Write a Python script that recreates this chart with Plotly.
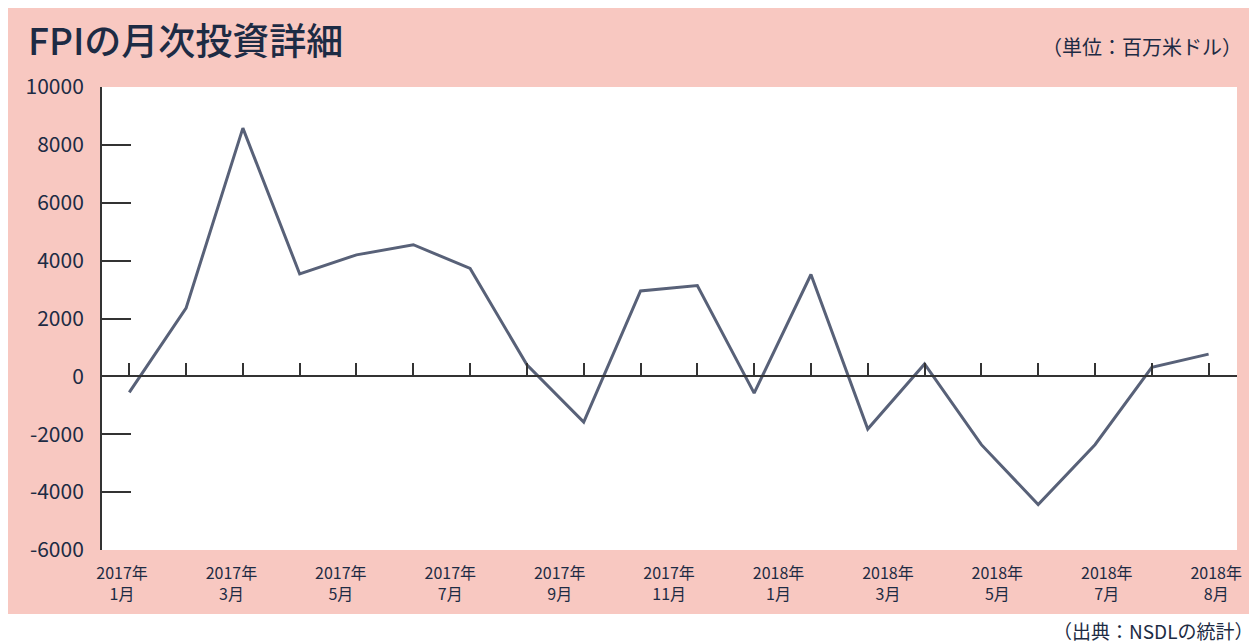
import plotly.graph_objects as go

# 月次データ (百万米ドル)
months = [
    "2017-01", "2017-02", "2017-03", "2017-04", "2017-05", "2017-06", "2017-07",
    "2017-08", "2017-09", "2017-10", "2017-11", "2017-12", "2018-01", "2018-02",
    "2018-03", "2018-04", "2018-05", "2018-06", "2018-07", "2018-08",
]
fpi_values = [
    -550, 2360, 8580, 3540, 4200, 4550, 3730,
    400, -1580, 2950, 3140, -580, 3520, -1820,
    430, -2360, -4430, -2360, 310, 770,
]
tick_labels = [
    "2017年<br>1月", "2017年<br>3月", "2017年<br>5月", "2017年<br>7月",
    "2017年<br>9月", "2017年<br>11月", "2018年<br>1月", "2018年<br>3月",
    "2018年<br>5月", "2018年<br>7月", "2018年<br>8月",
]
y_ticks = [10000, 8000, 6000, 4000, 2000, 0, -2000, -4000, -6000]

PINK = "#F8C8C1"
NAVY = "#1D2B44"
AXIS = "#333333"
LINE = "#586178"
FONT = "Noto Sans CJK JP"

# page body has an 8px margin, so the figure starts at (8, 8)
OFF = 8
W, H = 1257 - OFF, 643 - OFF
# plot area on the page: x 102..1237, y 87..550
L, R, T, B = 102 - OFF, 20, 87 - OFF, 643 - 550
pw, ph = W - L - R, H - T - B


def px_x(p):
    return (p - OFF - L) / pw


def px_y(p):
    return (H - B - (p - OFF)) / ph


fig = go.Figure()

fig.add_trace(go.Scatter(
    x=months, y=fpi_values, mode="lines",
    line=dict(color=LINE, width=3),
    xaxis="x", yaxis="y", showlegend=False, hoverinfo="x+y",
))
# label-only axis (evenly spread labels, as in the source chart)
fig.add_trace(go.Scatter(
    x=tick_labels, y=[None] * len(tick_labels), mode="lines",
    xaxis="x2", yaxis="y", showlegend=False, hoverinfo="skip",
))

# background panel
fig.add_shape(type="rect", xref="paper", yref="paper", layer="below",
              x0=px_x(OFF), x1=px_x(1251), y0=px_y(614), y1=px_y(OFF),
              fillcolor=PINK, line_width=0)
fig.add_shape(type="rect", xref="paper", yref="paper", layer="below",
              x0=0, x1=1, y0=0, y1=1, fillcolor="white", line_width=0)

fig.add_annotation(text="FPIの月次投資詳細", xref="paper", yref="paper",
                   x=px_x(26), y=px_y(39), xanchor="left", yanchor="middle",
                   showarrow=False,
                   font=dict(family=FONT, size=37, color=NAVY, weight=500))
fig.add_annotation(text="（単位：百万米ドル）", xref="paper", yref="paper",
                   x=px_x(1244), y=px_y(47), xanchor="right", yanchor="middle",
                   showarrow=False, font=dict(family=FONT, size=20, color=NAVY))
fig.add_annotation(text="（出典：NSDLの統計）", xref="paper", yref="paper",
                   x=px_x(1255), y=px_y(630), xanchor="right", yanchor="middle",
                   showarrow=False, font=dict(family=FONT, size=19, color=NAVY))

fig.update_layout(
    width=W, height=H,
    margin=dict(l=L, r=R, t=T, b=B),
    paper_bgcolor="white",
    plot_bgcolor="rgba(0,0,0,0)",
    font=dict(family=FONT, color=NAVY),
    xaxis=dict(
        type="category", range=[-0.48, 19.5],
        anchor="free", position=6000 / 16000,
        showline=True, linecolor=AXIS, linewidth=2,
        ticks="inside", ticklen=12, tickwidth=1.5, tickcolor=AXIS,
        showticklabels=False, showgrid=False, zeroline=False,
    ),
    xaxis2=dict(
        type="category", overlaying="x", anchor="y", side="bottom",
        range=[-0.183, 10.19],
        showline=False, ticks="", showgrid=False, zeroline=False,
        tickfont=dict(family=FONT, size=16, color=NAVY),
        ticklabelstandoff=12,
    ),
    yaxis=dict(
        range=[-6000, 10000], tickvals=y_ticks,
        ticktext=[str(v) for v in y_ticks],
        showline=True, linecolor=AXIS, linewidth=2,
        ticks="inside", ticklen=29, tickwidth=1.5, tickcolor=AXIS,
        showgrid=False, zeroline=False,
        tickfont=dict(family=FONT, size=21, color=NAVY),
        ticklabelstandoff=12,
    ),
)

fig.write_html("out.html")
